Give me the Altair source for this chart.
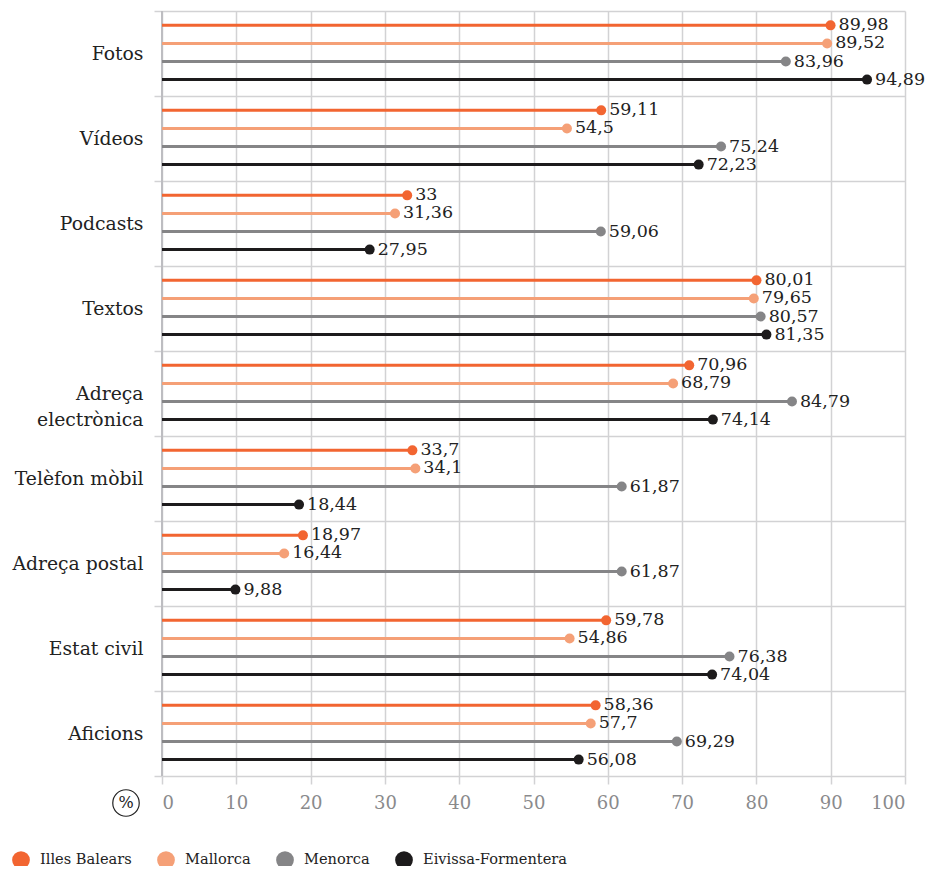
import altair as alt
import pandas as pd

categories = ["Fotos", "Vídeos", "Podcasts", "Textos", "Adreça electrònica",
              "Telèfon mòbil", "Adreça postal", "Estat civil", "Aficions"]
series = ["Illes Balears", "Mallorca", "Menorca", "Eivissa-Formentera"]
colors = ["#f26531", "#f5a077", "#858587", "#1d1b1c"]

illes_balears = [89.98, 59.11, 33, 80.01, 70.96, 33.7, 18.97, 59.78, 58.36]
mallorca = [89.52, 54.5, 31.36, 79.65, 68.79, 34.1, 16.44, 54.86, 57.7]
menorca = [83.96, 75.24, 59.06, 80.57, 84.79, 61.87, 61.87, 76.38, 69.29]
eivissa = [94.89, 72.23, 27.95, 81.35, 74.14, 18.44, 9.88, 74.04, 56.08]

x_ticks = [0, 10, 20, 30, 40, 50, 60, 70, 80, 90, 100]

rows = []
for i, c in enumerate(categories):
    for s, vals in zip(series, [illes_balears, mallorca, menorca, eivissa]):
        v = vals[i]
        rows.append({"cat": c, "serie": s, "value": v, "zero": 0,
                     "label": f"{v:g}".replace(".", ",")})
df = pd.DataFrame(rows)

W, H = 743, 765
FONT = "DejaVu Serif"
GRID = "#d2d2d4"

y_enc = alt.Y("cat:N", sort=categories,
              scale=alt.Scale(paddingInner=0, paddingOuter=0),
              axis=alt.Axis(title=None, tickBand="extent", grid=True, gridColor=GRID,
                            gridWidth=1.5, tickColor=GRID, tickWidth=1.5, tickSize=8,
                            domain=False, labelFont=FONT, labelFontSize=18.8,
                            labelColor="#222222", labelPadding=11, labelLineHeight=26,
                            labelExpr="datum.value == 'Adreça electrònica' ? ['Adreça', 'electrònica'] : datum.label"))
yoff = alt.YOffset("serie:N", sort=series,
                   scale=alt.Scale(paddingInner=0, paddingOuter=0.35, align=0.42))
x_scale = alt.Scale(domain=[0, 100], nice=False)
x_axis = alt.Axis(title=None, values=x_ticks, grid=True, gridColor=GRID, gridWidth=1.5,
                  tickColor=GRID, tickWidth=1.5, tickSize=8, domain=False,
                  labelFont=FONT, labelFontSize=18, labelColor="#8a8a8c", labelPadding=10)
color_scale = alt.Scale(domain=series, range=colors)
legend = alt.Legend(title=None, orient="none", legendX=-150, legendY=840,
                    direction="horizontal", symbolType="circle",
                    symbolSize=314, symbolOpacity=1, symbolStrokeWidth=0,
                    labelFont=FONT, labelFontSize=14.6,
                    labelColor="#222222", columnPadding=25, labelOffset=10)

base = alt.Chart(df)

zero_line = alt.Chart(pd.DataFrame({"x": [0]})).mark_rule(
    color="#bdbdc1", strokeWidth=2).encode(
    x=alt.X("x:Q", scale=x_scale, axis=x_axis), y=alt.value(0), y2=alt.value(H))

rules = base.mark_rule(strokeWidth=3).encode(
    x=alt.X("zero:Q", scale=x_scale, axis=x_axis),
    x2="value:Q",
    y=y_enc, yOffset=yoff,
    color=alt.Color("serie:N", scale=color_scale, legend=legend),
)

points = base.mark_circle(size=100, opacity=1).encode(
    x=alt.X("value:Q", scale=x_scale, axis=x_axis),
    y=y_enc, yOffset=yoff,
    color=alt.Color("serie:N", scale=color_scale, legend=legend),
)

texts = base.mark_text(align="left", baseline="middle", dx=8, font=FONT,
                       fontSize=17.5, color="#222222").encode(
    x=alt.X("value:Q", scale=x_scale, axis=x_axis),
    y=y_enc, yOffset=yoff,
    text="label:N",
)

pct = pd.DataFrame({"t": ["%"]})
pct_circle = alt.Chart(pct).mark_point(shape="circle", filled=False, size=700,
                                       stroke="#222222", strokeWidth=1.2, opacity=1).encode(
    x=alt.value(-36), y=alt.value(H + 27))
pct_text = alt.Chart(pct).mark_text(font=FONT, fontSize=16, color="#222222",
                                    baseline="middle", align="center").encode(
    x=alt.value(-36), y=alt.value(H + 27), text="t:N")

chart = alt.layer(zero_line, rules, points, texts, pct_circle, pct_text).properties(
    width=W, height=H,
    autosize=alt.AutoSizeParams(type="none"),
    padding={"left": 154, "top": 3, "right": 24, "bottom": 90}
).configure_view(stroke=None)

chart.save("out.html", embed_options={"renderer": "svg", "actions": False})
